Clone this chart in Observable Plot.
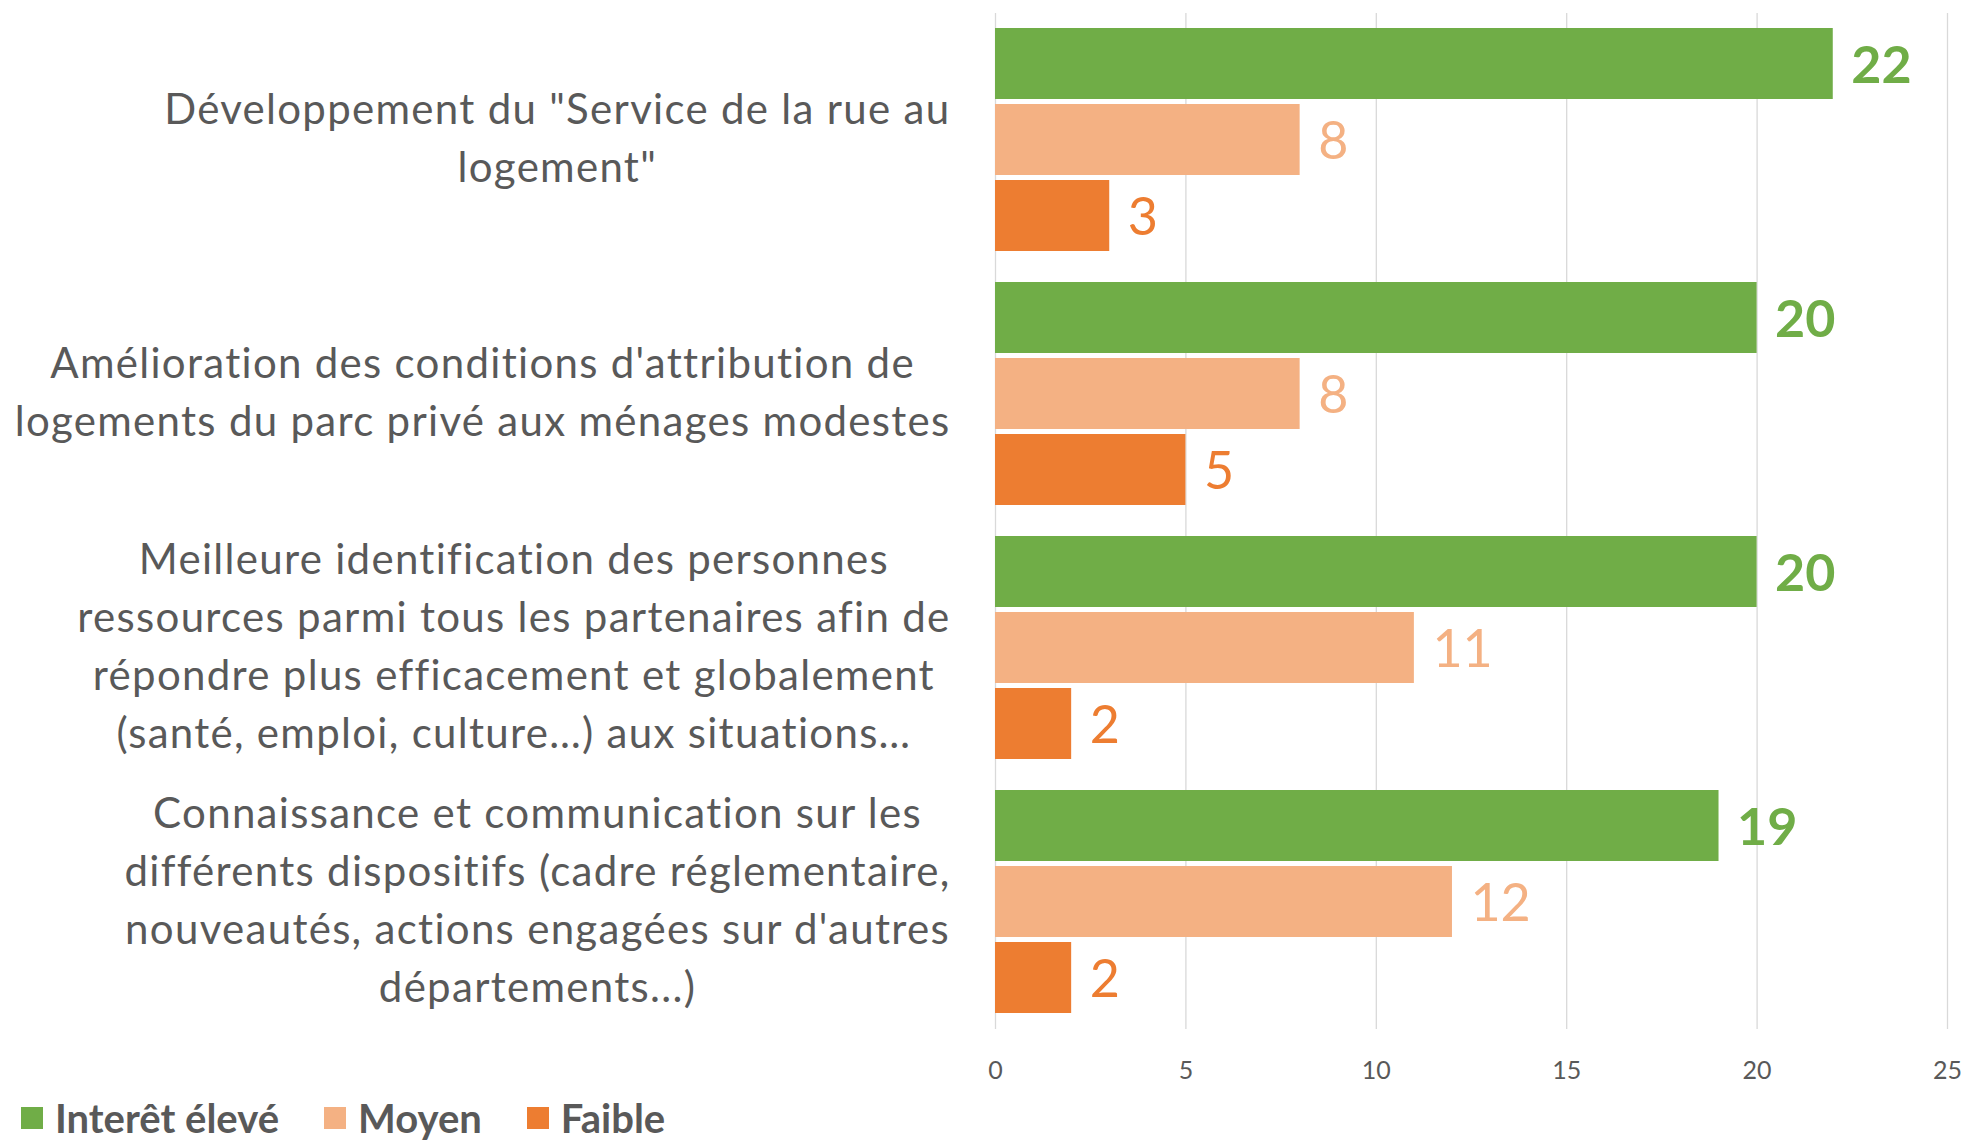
<!DOCTYPE html>
<html>
<head>
<meta charset="utf-8">
<script src="https://cdn.jsdelivr.net/npm/d3@7"></script>
<script src="https://cdn.jsdelivr.net/npm/@observablehq/plot@0.6"></script>
<style>
  html, body { margin: 0; padding: 0; background: #fff; overflow: hidden; }
  body { font-family: Lato, "Open Sans", sans-serif; }
  #legend { display: flex; align-items: center; height: 48px; padding-left: 21px; }
  .item { display: flex; align-items: center; margin-right: 45px; font-weight: bold; font-size: 40px; line-height: 48px; color: #595959; }
  .sw { width: 22px; height: 22px; margin-right: 12px; }
</style>
</head>
<body>
<div id="chart"></div>
<div id="legend"></div>
<script>
// ---- data ----
const categories = [
  "Développement du \"Service de la rue au\nlogement\"",
  "Amélioration des conditions d'attribution de\nlogements du parc privé aux ménages modestes",
  "Meilleure identification des personnes\nressources parmi tous les partenaires afin de\nrépondre plus efficacement et globalement\n(santé, emploi, culture…) aux situations…",
  "Connaissance et communication sur les\ndifférents dispositifs (cadre réglementaire,\nnouveautés, actions engagées sur d'autres\ndépartements...)"
];
const seriesNames = ["Interêt élevé", "Moyen", "Faible"];
const interetEleve = [22, 20, 20, 19];
const moyen = [8, 8, 11, 12];
const faible = [3, 5, 2, 2];
const xTicks = [0, 5, 10, 15, 20, 25];
const seriesColors = ["#70AD47", "#F4B183", "#ED7D31"];

const seriesValues = [interetEleve, moyen, faible];
const rows = categories.flatMap((c, i) =>
  seriesNames.map((s, j) => ({category: c, series: s, value: seriesValues[j][i]}))
);

const plot = Plot.plot({
  width: 1968,
  height: 1094,
  marginLeft: 995,
  marginRight: 21,
  marginTop: 11,
  marginBottom: 64,
  style: {fontFamily: "Lato, 'Open Sans', sans-serif", color: "#595959", background: "#fff"},
  x: {domain: [0, 25]},
  fy: {domain: categories, padding: 0, axis: null},
  y: {domain: seriesNames, paddingInner: 0.0654, paddingOuter: 0.198, axis: null},
  color: {domain: seriesNames, range: seriesColors},
  marks: [
    Plot.gridX({ticks: xTicks, stroke: "#D9D9D9", strokeOpacity: 1, strokeWidth: 1.3}),
    Plot.barX(rows, {x: "value", y: "series", fy: "category", fill: "series"}),
    Plot.text(rows.filter(d => d.series === seriesNames[0]), {
      x: "value", y: "series", fy: "category", text: d => String(d.value),
      fill: "series", textAnchor: "start", dx: 18, dy: 2, fontSize: 52, fontWeight: "bold"
    }),
    Plot.text(rows.filter(d => d.series !== seriesNames[0]), {
      x: "value", y: "series", fy: "category", text: d => String(d.value),
      fill: "series", textAnchor: "start", dx: 18, dy: 2, fontSize: 52
    }),
    Plot.text(categories, {
      fy: d => d, text: d => d, frameAnchor: "left", textAnchor: "end",
      dx: -45, dy: -6, fontSize: 42, lineHeight: 1.38, fill: "#595959"
    }),
    Plot.axisX({ticks: xTicks, tickSize: 0, tickPadding: 32, fontSize: 25, fill: "#595959", label: null})
  ]
});
document.getElementById("chart").appendChild(plot);

// widen (Calibri-like metrics) and center lines of each multi-line category label within its right-aligned block
document.querySelectorAll("#chart svg text").forEach(t => {
  const spans = t.querySelectorAll("tspan");
  if (spans.length < 2) return;
  t.style.letterSpacing = "1.3px";
  const w = Math.max(...[...spans].map(s => s.getComputedTextLength()));
  t.setAttribute("text-anchor", "middle");
  spans.forEach(s => s.setAttribute("x", -w / 2));
});

// legend
const legend = document.getElementById("legend");
seriesNames.forEach((s, i) => {
  const item = document.createElement("div");
  item.className = "item";
  const sw = document.createElement("div");
  sw.className = "sw";
  sw.style.background = seriesColors[i];
  const label = document.createElement("span");
  label.textContent = s;
  item.appendChild(sw);
  item.appendChild(label);
  legend.appendChild(item);
});
</script>
</body>
</html>
